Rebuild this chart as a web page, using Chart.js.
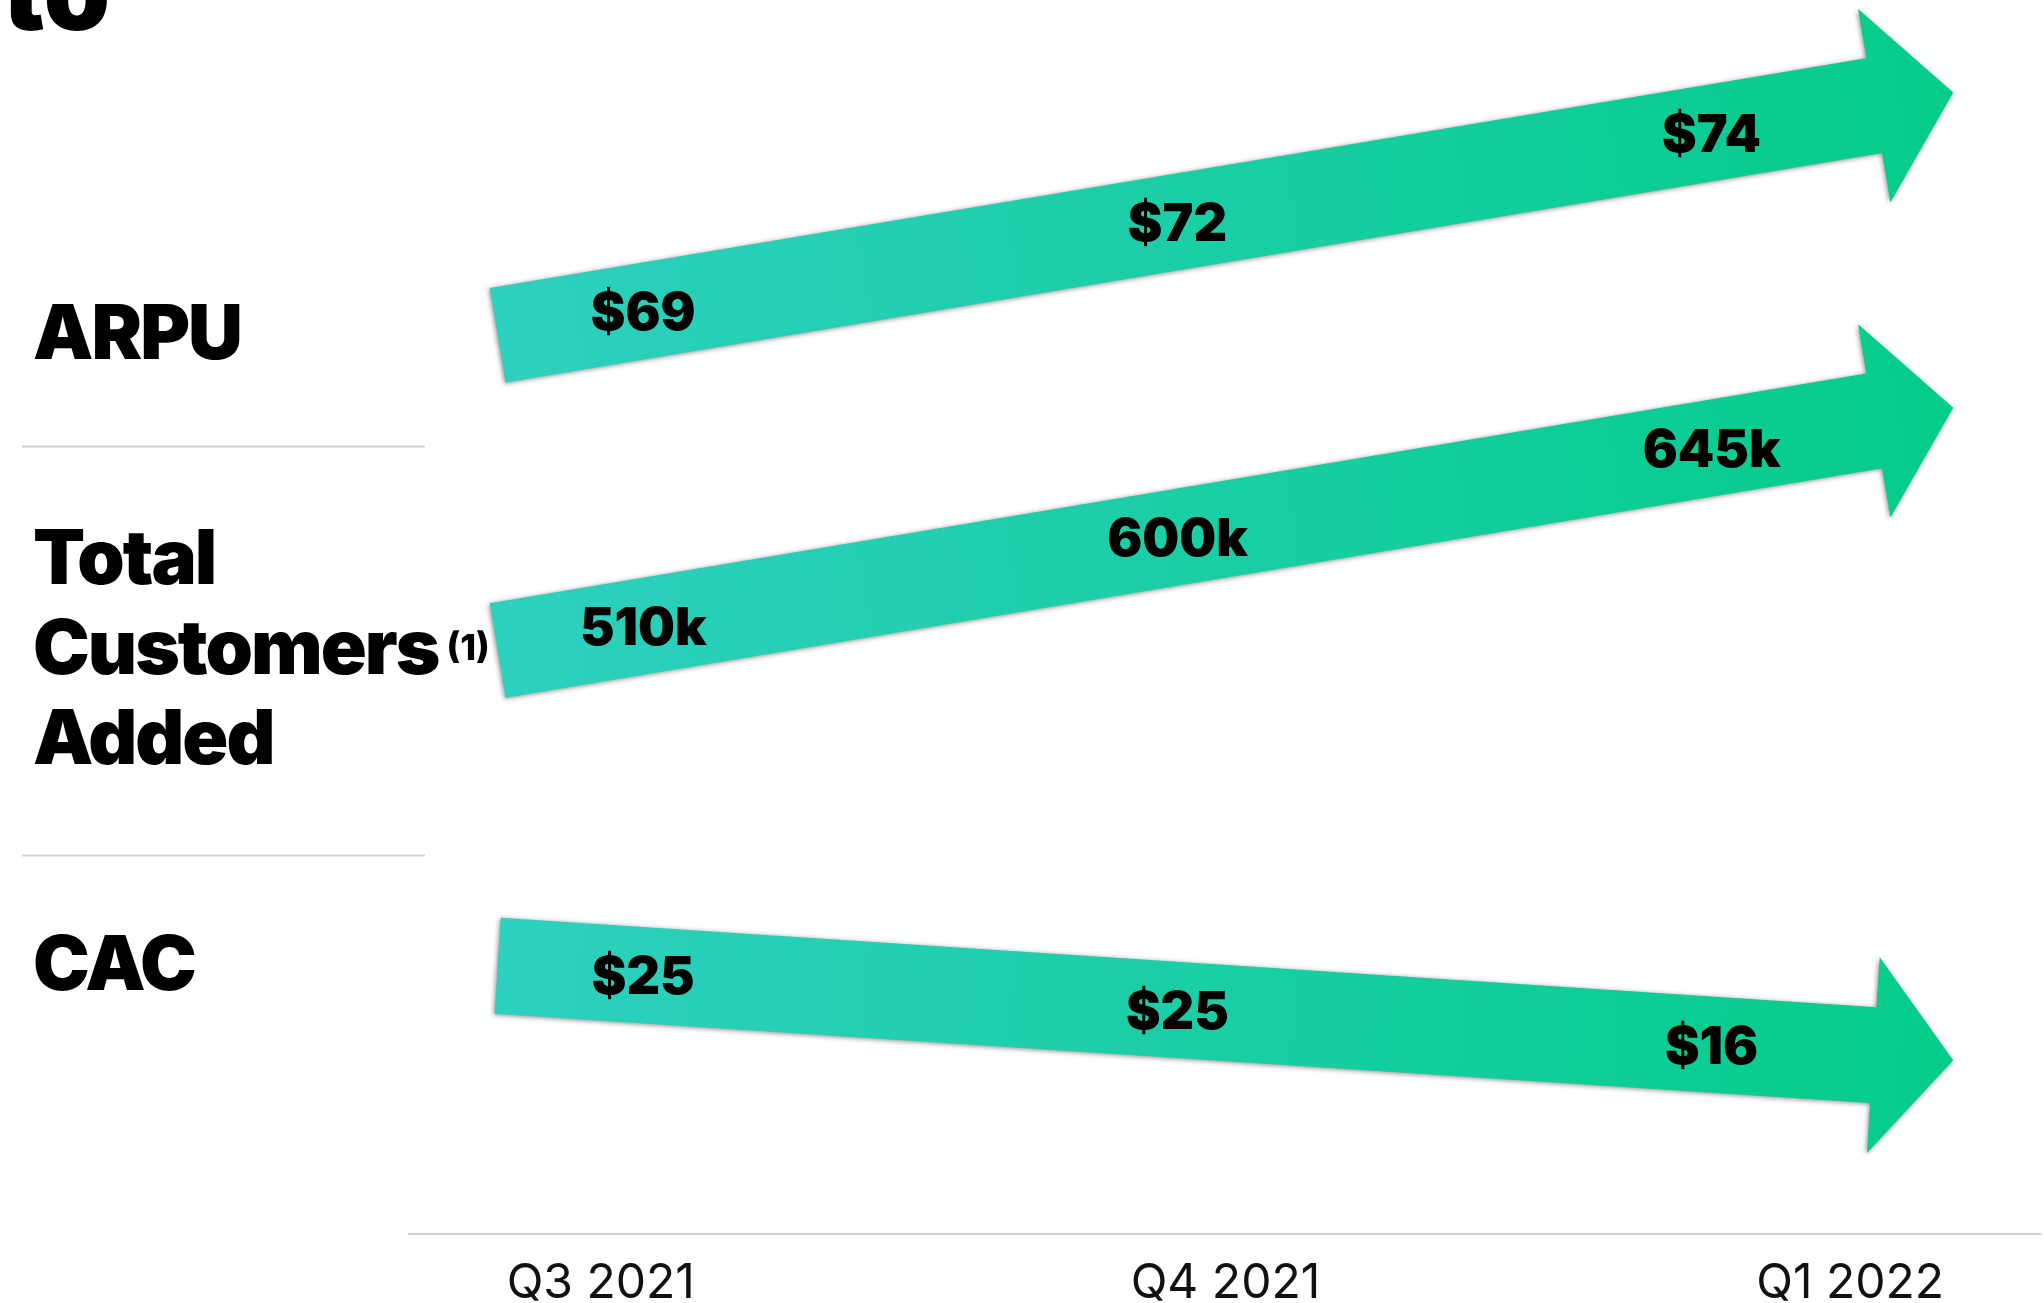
<!DOCTYPE html>
<html>
<head>
<meta charset="utf-8">
<title>ARPU, Total Customers Added, CAC</title>
<script src="https://cdn.jsdelivr.net/npm/chart.js@4.4.1/dist/chart.umd.min.js"></script>
<style>
  html, body { margin: 0; padding: 0; background: #fff; }
  #wrap { position: relative; width: 2044px; height: 1303px; }
</style>
</head>
<body>
<div id="wrap"><canvas id="kpiChart"></canvas></div>
<script>
const quarters = ['Q3 2021', 'Q4 2021', 'Q1 2022'];
const rowLabels = [['ARPU'], ['Total', 'Customers', 'Added'], ['CAC']];
const arpu = [69, 72, 74];              // $
const customersAdded = [510, 600, 645]; // thousands
const cac = [25, 25, 16];               // $

const HEAVY = '"Inter", "Lato", "Roboto", sans-serif';
const formats = [v => '$' + v, v => v + 'k', v => '$' + v];

// draws one fat arrow per row, with the values sitting along it
const arrowRows = {
    id: 'arrowRows',
    afterDatasetsDraw(chart) {
        const ctx = chart.ctx;
        const xs = chart.scales.x;
        const rows = chart.scales.rows;

        chart.data.datasets.forEach((ds, r) => {
            const vals = ds.data.map(p => p.y);
            const up = vals[vals.length - 1] >= vals[0];
            const row = r + 1;
            const tx = xs.getPixelForValue(-0.165);
            const ty = rows.getPixelForValue(row);
            const px = xs.getPixelForValue(2.165);
            const py = rows.getPixelForValue(row + (up ? -0.77 : 0.3));

            const len = Math.hypot(px - tx, py - ty);
            const ux = (px - tx) / len, uy = (py - ty) / len;
            const nx = -uy, ny = ux;
            const hw = 48, hh = 98, hl = 80;
            const bx = px - ux * hl, by = py - uy * hl;

            ctx.save();
            const grad = ctx.createLinearGradient(tx, ty, px, py);
            grad.addColorStop(0, '#2ed0bf');
            grad.addColorStop(1, '#04cc8a');
            ctx.fillStyle = grad;
            ctx.shadowColor = 'rgba(0,0,0,0.45)';
            ctx.shadowBlur = 5;
            ctx.shadowOffsetX = -1;
            ctx.shadowOffsetY = 1;
            ctx.beginPath();
            ctx.moveTo(tx + nx * hw, ty + ny * hw);
            ctx.lineTo(bx + nx * hw, by + ny * hw);
            ctx.lineTo(bx + nx * hh, by + ny * hh);
            ctx.lineTo(px, py);
            ctx.lineTo(bx - nx * hh, by - ny * hh);
            ctx.lineTo(bx - nx * hw, by - ny * hw);
            ctx.lineTo(tx - nx * hw, ty - ny * hw);
            ctx.closePath();
            ctx.fill();
            ctx.restore();

            ctx.save();
            ctx.fillStyle = '#000';
            ctx.font = '900 52px ' + HEAVY;
            ctx.textAlign = 'center';
            ctx.textBaseline = 'alphabetic';
            vals.forEach((v, i) => {
                const t = 0.1 + 0.367 * i;
                const lx = tx + (px - tx) * t;
                const ly = ty + (py - ty) * t;
                ctx.fillText(formats[r](v), lx, ly + 19);
            });
            ctx.restore();
        });
    },
    beforeDraw(chart) {
        const ctx = chart.ctx;
        const rows = chart.scales.rows;
        ctx.save();
        // tail of the slide title, cut off at the top
        ctx.fillStyle = '#000';
        ctx.font = '900 106px ' + HEAVY;
        ctx.textAlign = 'right';
        ctx.textBaseline = 'alphabetic';
        ctx.fillText('to', 110, 30);

        // row labels
        ctx.textAlign = 'left';
        rowLabels.forEach((lines, r) => {
            const mid = rows.getPixelForValue(r + 1) + 24;
            lines.forEach((txt, i) => {
                const y = mid + (i - (lines.length - 1) / 2) * 90;
                ctx.font = '900 76px ' + HEAVY;
                ctx.letterSpacing = '-2px';
                ctx.fillText(txt, 33, y);
                if (txt === 'Customers') {
                    const w = ctx.measureText(txt).width;
                    ctx.letterSpacing = '0px';
                    ctx.font = '800 36px ' + HEAVY;
                    ctx.fillText('(1)', 33 + w + 8, y - 14);
                }
            });
        });
        ctx.letterSpacing = '0px';

        // separators between the rows
        ctx.strokeStyle = '#d2d2d2';
        ctx.lineWidth = 2;
        [1.35, 2.65].forEach(v => {
            const y = Math.round(rows.getPixelForValue(v)) + 0.5;
            ctx.beginPath();
            ctx.moveTo(22, y);
            ctx.lineTo(425, y);
            ctx.stroke();
        });
        ctx.restore();
    }
};

const toPoints = arr => arr.map((v, i) => ({ x: i, y: v }));

const chart = new Chart(document.getElementById('kpiChart'), {
    type: 'line',
    data: {
        datasets: [
            { label: 'ARPU', data: toPoints(arpu), yAxisID: 'yArpu' },
            { label: 'Total Customers Added', data: toPoints(customersAdded), yAxisID: 'yCust' },
            { label: 'CAC', data: toPoints(cac), yAxisID: 'yCac' }
        ]
    },
    options: {
        responsive: true,
        maintainAspectRatio: false,
        animation: false,
        showLine: false,
        elements: { point: { radius: 0, hoverRadius: 0 } },
        layout: { padding: { left: 409, right: 4, top: 0, bottom: -31 } },
        plugins: {
            legend: { display: false },
            tooltip: { enabled: false }
        },
        scales: {
            x: {
                type: 'linear',
                min: -0.307,
                max: 2.304,
                afterBuildTicks: axis => {
                    axis.ticks = quarters.map((q, i) => ({ value: i }));
                },
                grid: { display: false, drawTicks: false },
                border: { display: true, color: '#cfcfcf', width: 2 },
                ticks: {
                    callback: v => quarters[v],
                    padding: 26,
                    maxRotation: 0,
                    color: '#111',
                    font: { family: '"Inter", "Roboto", sans-serif', size: 48, weight: '400', lineHeight: 1 }
                }
            },
            rows: { type: 'linear', display: false, reverse: true, min: -0.0635, max: 3.851 },
            yArpu: { type: 'linear', display: false },
            yCust: { type: 'linear', display: false },
            yCac: { type: 'linear', display: false }
        }
    },
    plugins: [arrowRows]
});
</script>
</body>
</html>
